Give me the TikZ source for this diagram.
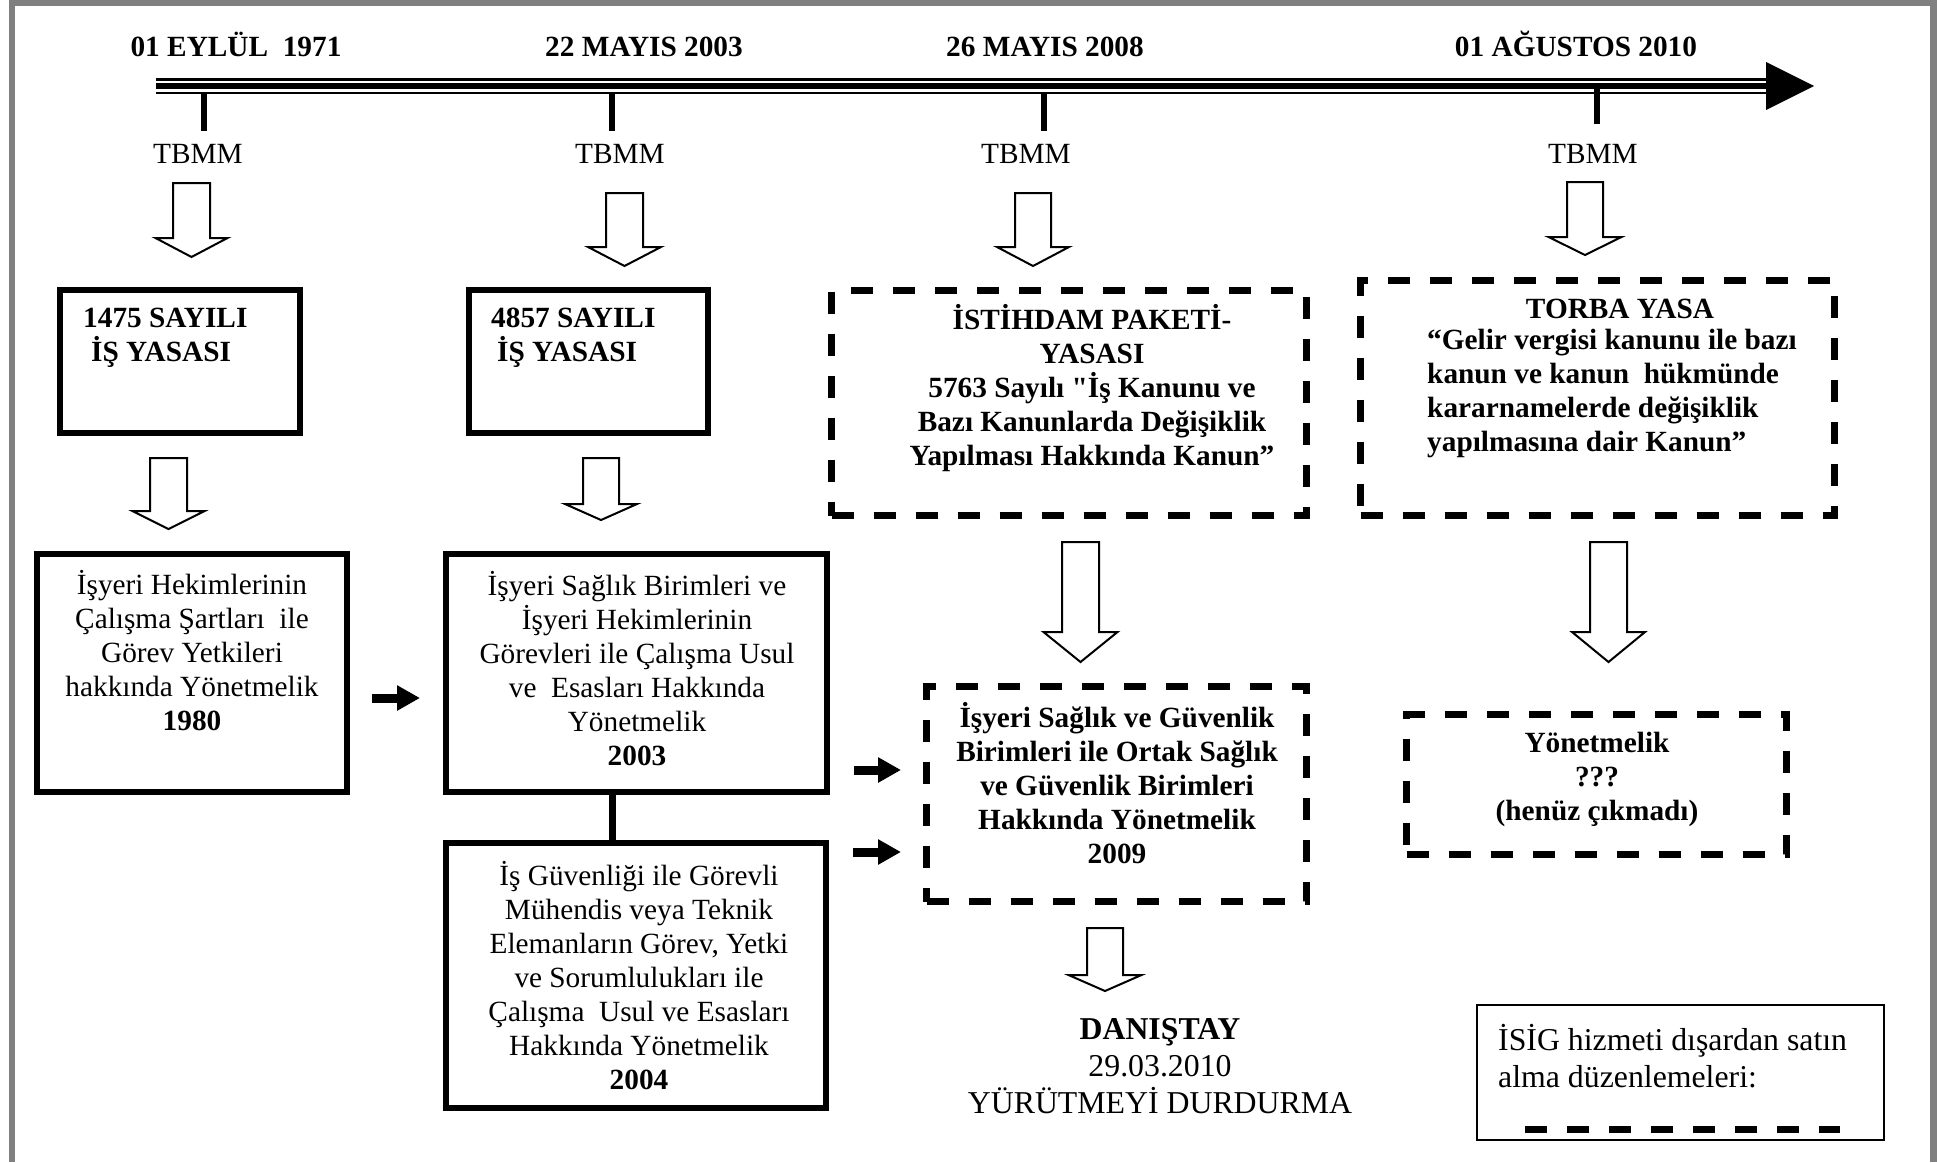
\documentclass[tikz,border=0pt]{standalone}
\usepackage{fontspec}
\setmainfont{Liberation Serif}
\usetikzlibrary{arrows.meta}
\definecolor{framegray}{RGB}{128,128,128}
\newcommand\fsn{\fontsize{29.3pt}{34pt}\selectfont}
\newcommand\fsl{\fontsize{31.8pt}{37pt}\selectfont}
\newcommand\harrow[6]{\draw[hollow] ({#1-#3},#2) -- ({#1+#3},#2) -- ({#1+#3},#4) -- ({#1+#5},#4) -- (#1,#6) -- ({#1-#5},#4) -- ({#1-#3},#4) -- cycle;}
\tikzset{
  solidbox/.style={draw, line width=6pt, inner sep=0pt, outer sep=0pt, rectangle},
  dashbox/.style={draw, line width=7pt, dash pattern=on 22pt off 20pt, inner sep=0pt, outer sep=0pt, rectangle},
  legendbox/.style={draw, line width=2pt, inner sep=0pt, outer sep=0pt, rectangle},
  hollow/.style={line width=2pt, fill=white, line join=miter},
  blackarrow/.style={line width=9pt, -{Triangle[length=23pt,width=24pt]}},
  tick/.style={line width=6pt},
  txt/.style={inner sep=0pt, font=\fsn, align=center},
  btxt/.style={inner sep=0pt, font=\fsn\bfseries, align=center},
}
\begin{document}
\begin{tikzpicture}[x=1pt,y=-1pt]
\useasboundingbox (0,0) rectangle (1937,1162);
% frame
\fill[framegray] (9,0) rectangle (15,1162);
\fill[framegray] (9,0) rectangle (1937,6);
\fill[framegray] (1930,0) rectangle (1937,1162);

% timeline
\coordinate (tl0) at (156,86);
\coordinate (tl1) at (1766,86);
\coordinate (tltip) at (1814,86);
\draw[line width=5.5pt] (tl0) -- (tl1);
\draw[line width=2.5pt] ([yshift=6.5pt]tl0) -- ([yshift=6.5pt]tl1);
\draw[line width=2.5pt] ([yshift=-7pt]tl0) -- ([yshift=-7pt]tl1);
\fill ([yshift=24pt]tl1) -- (tltip) -- ([yshift=-24pt]tl1) -- cycle;

% ticks
\coordinate (k1a) at (204,94);  \coordinate (k1b) at (204,131);
\coordinate (k2a) at (612,94);  \coordinate (k2b) at (612,131);
\coordinate (k3a) at (1044,94); \coordinate (k3b) at (1044,131);
\coordinate (k4a) at (1597,88); \coordinate (k4b) at (1597,124);
\draw[tick] (k1a) -- (k1b);
\draw[tick] (k2a) -- (k2b);
\draw[tick] (k3a) -- (k3b);
\draw[tick] (k4a) -- (k4b);

% dates
\node[btxt, anchor=base] (d1) at (236,56) {01 EYLÜL~ 1971};
\node[btxt, anchor=base] (d2) at (644,56) {22 MAYIS 2003};
\node[btxt, anchor=base] (d3) at (1045,56) {26 MAYIS 2008};
\node[btxt, anchor=base] (d4) at (1576,56) {01 AĞUSTOS 2010};

% TBMM
\node[txt, anchor=base] (tb1) at (198,163) {TBMM};
\node[txt, anchor=base] (tb2) at (620,163) {TBMM};
\node[txt, anchor=base] (tb3) at (1026,163) {TBMM};
\node[txt, anchor=base] (tb4) at (1593,163) {TBMM};

% hollow arrows
\harrow{191.5}{183}{18.5}{238}{36}{257}
\harrow{624.5}{193}{18.5}{247}{36.5}{266}
\harrow{1033}{193}{18}{247}{36}{266}
\harrow{1585}{182}{18}{237}{36.5}{255}
\harrow{168.5}{458}{18.5}{511}{36}{529}
\harrow{601}{458}{18}{504}{36}{520}
\harrow{1080.5}{542}{18.5}{632}{37}{662}
\harrow{1608.5}{542}{18.5}{632}{36.5}{662}
\harrow{1105}{928}{18}{975}{36.5}{991}

% law boxes
\node[solidbox, minimum width=240pt, minimum height=143pt] (b1475) at (180,361.5) {};
\node[btxt, anchor=west, align=left] (t1475) at (83,337.5) {1475 SAYILI\\\hspace*{8pt}İŞ YASASI};
\node[solidbox, minimum width=239pt, minimum height=143pt] (b4857) at (588.5,361.5) {};
\node[btxt, anchor=west, align=left] (t4857) at (491,337.5) {4857 SAYILI\\\hspace*{6pt}İŞ YASASI};
\node[dashbox, minimum width=475pt, minimum height=225pt] (dist) at (1069,403) {};
\node[btxt] (tist) at (1092,388) {İSTİHDAM PAKETİ-\\YASASI\\5763 Sayılı \textquotedbl İş Kanunu ve\\Bazı Kanunlarda Değişiklik\\Yapılması Hakkında Kanun”};
\node[dashbox, minimum width=474pt, minimum height=235pt] (dtorba) at (1597.5,398) {};
\node[btxt, anchor=base] (ttorba) at (1620,318) {TORBA YASA};
\node[btxt, anchor=west, align=left] (ttorbab) at (1427,393.5) {“Gelir vergisi kanunu ile bazı\\kanun ve kanun~ hükmünde\\kararnamelerde değişiklik\\yapılmasına dair Kanun”};

% regulation boxes
\node[solidbox, minimum width=310pt, minimum height=238pt] (b1980) at (192,673) {};
\node[txt] (t1980) at (192,651) {\fontsize{29.3pt}{33.4pt}\selectfont İşyeri Hekimlerinin\\Çalışma Şartları~ ile\\Görev Yetkileri\\hakkında Yönetmelik\\\textbf{1980}};
\node[solidbox, minimum width=381pt, minimum height=238pt] (b2003) at (636.5,673) {};
\node[txt] (t2003) at (637,668.5) {\fontsize{29.3pt}{33.4pt}\selectfont İşyeri Sağlık Birimleri ve\\İşyeri Hekimlerinin\\Görevleri ile Çalışma Usul\\ve~ Esasları Hakkında\\Yönetmelik\\\textbf{2003}};
\node[solidbox, minimum width=380pt, minimum height=265pt] (b2004) at (636,975.5) {};
\node[txt] (t2004) at (639,976) {\fontsize{29.3pt}{34.3pt}\selectfont İş Güvenliği ile Görevli\\Mühendis veya Teknik\\Elemanların Görev, Yetki\\ve Sorumlulukları ile\\Çalışma~ Usul ve Esasları\\Hakkında Yönetmelik\\\textbf{2004}};
\coordinate (cx) at (612,0);
\draw[line width=7pt] (b2003.south -| cx) -- (b2004.north -| cx);

\node[dashbox, minimum width=380pt, minimum height=215pt] (d2009) at (1116.5,794) {};
\node[btxt] (t2009) at (1117,783) {\fontsize{29.3pt}{33.5pt}\selectfont İşyeri Sağlık ve Güvenlik\\Birimleri ile Ortak Sağlık\\ve Güvenlik Birimleri\\Hakkında Yönetmelik\\2009};
\node[dashbox, minimum width=380pt, minimum height=140pt] (dyon) at (1596.5,784.5) {};
\node[btxt] (tyon) at (1597,779) {\fontsize{29.3pt}{36pt}\selectfont Yönetmelik\\???\\(henüz çıkmadı)};

% black arrows
\coordinate (a1s) at (372,698); \coordinate (a1e) at (420,698);
\coordinate (a2s) at (854,770); \coordinate (a2e) at (901,770);
\coordinate (a3s) at (853,852); \coordinate (a3e) at (901,852);
\draw[blackarrow] (a1s) -- (a1e);
\draw[blackarrow] (a2s) -- (a2e);
\draw[blackarrow] (a3s) -- (a3e);

% Danistay
\node[inner sep=0pt, font=\fsl, align=center] (tdan) at (1160,1066) {\textbf{DANIŞTAY}\\29.03.2010\\YÜRÜTMEYİ DURDURMA};

% legend
\node[legendbox, minimum width=407pt, minimum height=135pt] (leg) at (1680.5,1072.5) {};
\node[inner sep=0pt, font=\fsl, align=left, anchor=west] (tleg) at (1498,1056) {İSİG hizmeti dışardan satın\\alma düzenlemeleri:};
\coordinate (ls) at (1525,1129); \coordinate (le) at (1840,1129);
\draw[line width=7pt, dash pattern=on 22pt off 20pt] (ls) -- (le);
\end{tikzpicture}
\end{document}
